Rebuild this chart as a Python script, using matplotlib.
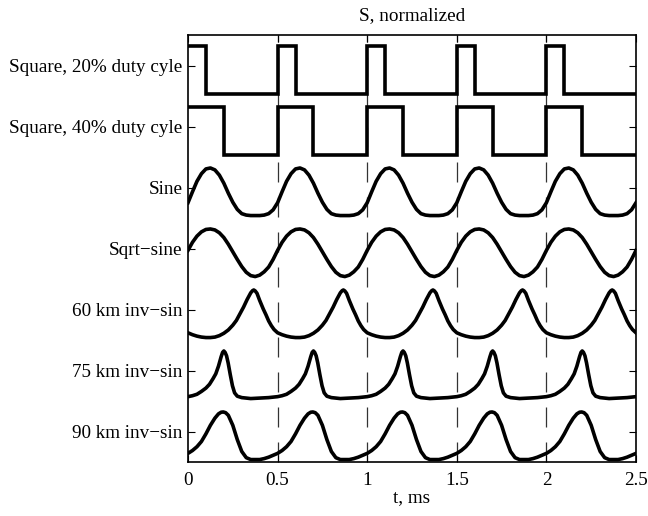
import numpy as np
import matplotlib
matplotlib.use("Agg")
import matplotlib.pyplot as plt

# ---- data (one period = 0.5 ms, values normalized 0..1) ----
period = 0.5
n_periods = 5

labels = ["Square, 20% duty cyle", "Square, 40% duty cyle", "Sine", "Sqrt\u2212sine",
          "60 km inv\u2212sin", "75 km inv\u2212sin", "90 km inv\u2212sin"]

sq20_t = [0.0, 0.1, 0.5]
sq20_v = [1, 0, 0]
sq40_t = [0.0, 0.2, 0.5]
sq40_v = [1, 0, 0]

sine_t = [0.0, 0.025, 0.05, 0.075, 0.1, 0.125, 0.15, 0.175, 0.2, 0.225, 0.25,
          0.275, 0.3, 0.325, 0.35, 0.375, 0.4, 0.425, 0.45, 0.475, 0.5]
sine_v = [0.27, 0.50, 0.72, 0.88, 0.98, 1.00, 0.96, 0.85, 0.68, 0.47, 0.28,
          0.13, 0.04, 0.01, 0.0, 0.0, 0.0, 0.01, 0.04, 0.12, 0.27]

sqrt_t = sine_t
sqrt_v = [0.55, 0.72, 0.85, 0.94, 0.99, 1.00, 0.98, 0.92, 0.82, 0.68, 0.52,
          0.36, 0.21, 0.09, 0.02, 0.0, 0.03, 0.10, 0.20, 0.36, 0.55]

km60_t = [0.0, 0.025, 0.05, 0.075, 0.1, 0.125, 0.15, 0.175, 0.2, 0.225, 0.25,
          0.27, 0.29, 0.31, 0.33, 0.35, 0.36, 0.367, 0.375, 0.385, 0.40, 0.42,
          0.435, 0.45, 0.465, 0.48, 0.5]
km60_v = [0.10, 0.06, 0.03, 0.01, 0.0, 0.0, 0.01, 0.04, 0.09, 0.16, 0.26,
          0.36, 0.50, 0.64, 0.80, 0.94, 0.985, 1.00, 0.98, 0.93, 0.78, 0.60,
          0.48, 0.35, 0.25, 0.17, 0.10]

km75_t = [0.0, 0.025, 0.05, 0.075, 0.1, 0.12, 0.14, 0.155, 0.17, 0.185, 0.193,
          0.2, 0.207, 0.215, 0.224, 0.236, 0.248, 0.26, 0.275, 0.3, 0.35, 0.4,
          0.45, 0.5]
km75_v = [0.04, 0.06, 0.09, 0.15, 0.22, 0.30, 0.42, 0.52, 0.68, 0.88, 0.97,
          1.00, 0.97, 0.90, 0.75, 0.50, 0.27, 0.12, 0.05, 0.02, 0.0, 0.01,
          0.02, 0.04]

km90_t = [0.0, 0.025, 0.05, 0.075, 0.1, 0.125, 0.15, 0.17, 0.185, 0.197, 0.21,
          0.225, 0.25, 0.275, 0.3, 0.325, 0.35, 0.375, 0.4, 0.425, 0.45, 0.475, 0.5]
km90_v = [0.13, 0.19, 0.27, 0.38, 0.54, 0.72, 0.87, 0.96, 0.995, 1.00, 0.985,
          0.93, 0.72, 0.42, 0.17, 0.04, 0.0, 0.0, 0.0, 0.02, 0.05, 0.09, 0.13]

dash_t = [0.5, 1.0, 1.5, 2.0]
xticks = [0, 0.5, 1, 1.5, 2, 2.5]
xticklabels = ["0", "0.5", "1", "1.5", "2", "2.5"]


def tile(t, v):
    t = np.asarray(t, float)
    v = np.asarray(v, float)
    ts, vs = [], []
    for k in range(n_periods):
        tt = t[:-1] if k < n_periods - 1 else t
        vv = v[:-1] if k < n_periods - 1 else v
        ts.append(tt + k * period)
        vs.append(vv)
    return np.concatenate(ts), np.concatenate(vs)


plt.rcParams['font.family'] = ['Liberation Serif', 'DejaVu Serif']

fig = plt.figure(figsize=(6.48, 5.16), dpi=100)
ax = fig.add_axes([188 / 648, 1 - 462 / 516, (636 - 188) / 648, (462 - 35) / 516])

base = 0.04
scale = 0.78
lw = 2.6
fs = 13.8

series = [(sq20_t, sq20_v, True), (sq40_t, sq40_v, True), (sine_t, sine_v, False),
          (sqrt_t, sqrt_v, False), (km60_t, km60_v, False), (km75_t, km75_v, False),
          (km90_t, km90_v, False)]

nrows = len(series)
for i, (t, v, step) in enumerate(series):
    row = nrows - 1 - i
    tt, vv = tile(t, v)
    y = row + base + scale * vv
    if step:
        ax.plot(tt, y, color='black', lw=lw, drawstyle='steps-post',
                solid_joinstyle='miter')
    else:
        ax.plot(tt, y, color='black', lw=lw, solid_joinstyle='round')

for xd in dash_t:
    ax.axvline(xd, color='#333333', lw=0.9, linestyle=(0, (16, 12)), zorder=0)

ax.set_xlim(0, 2.5)
ax.set_ylim(0, nrows)
ax.set_xticks(xticks)
ax.set_xticklabels(xticklabels)
ax.set_yticks([nrows - 1 - i + 0.5 for i in range(nrows)])
ax.set_yticklabels(labels)
ax.tick_params(direction='in', top=True, right=True, length=5, width=0.8,
               labelsize=fs, colors='black', pad=4)
ax.tick_params(axis='x', pad=7)
for s in ax.spines.values():
    s.set_linewidth(1.2)

ax.set_title("S, normalized", fontsize=fs, pad=11)
ax.set_xlabel("t, ms", fontsize=fs, labelpad=0)

fig.savefig("out.png", dpi=100)
